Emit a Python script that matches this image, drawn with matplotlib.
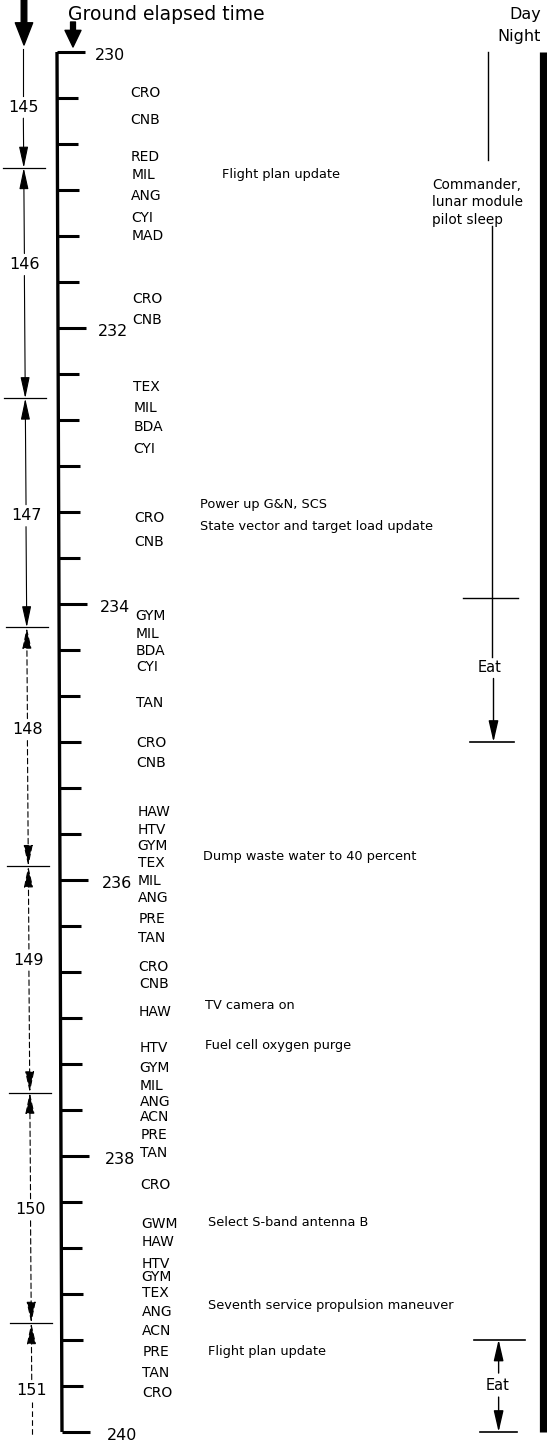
import numpy as np
import matplotlib.pyplot as plt

# ground elapsed time axis (hours)
get_start, get_end = 230, 240
labelled_hours = [230, 232, 234, 236, 238, 240]

# revolution column
rev_numbers = [145, 146, 147, 148, 149, 150, 151]
rev_label_times = [230.40, 231.54, 233.36, 234.91, 236.58, 238.39, 239.70]
rev_boundaries = [230.84, 232.51, 234.17, 235.90, 237.54, 239.21]

# ground stations in contact
stations = ["CRO", "CNB", "RED", "MIL", "ANG", "CYI", "MAD", "CRO", "CNB",
            "TEX", "MIL", "BDA", "CYI", "CRO", "CNB", "GYM", "MIL", "BDA",
            "CYI", "TAN", "CRO", "CNB", "HAW", "HTV", "GYM", "TEX", "MIL",
            "ANG", "PRE", "TAN", "CRO", "CNB", "HAW", "HTV", "GYM", "MIL",
            "ANG", "ACN", "PRE", "TAN", "CRO", "GWM", "HAW", "HTV", "GYM",
            "TEX", "ANG", "ACN", "PRE", "TAN", "CRO"]
station_times = [230.30, 230.49, 230.76, 230.89, 231.04, 231.20, 231.33,
                 231.79, 231.94, 232.43, 232.58, 232.72, 232.88, 233.38,
                 233.55, 234.09, 234.22, 234.34, 234.46, 234.72, 235.01,
                 235.15, 235.51, 235.64, 235.75, 235.88, 236.01, 236.13,
                 236.28, 236.42, 236.63, 236.75, 236.96, 237.22, 237.36,
                 237.49, 237.61, 237.72, 237.85, 237.98, 238.21, 238.49,
                 238.62, 238.78, 238.88, 238.99, 239.13, 239.27, 239.42,
                 239.57, 239.72]

# spacecraft events
events = ["Flight plan update",
          "Power up G&N, SCS",
          "State vector and target load update",
          "Dump waste water to 40 percent",
          "TV camera on",
          "Fuel cell oxygen purge",
          "Select S-band antenna B",
          "Seventh service propulsion maneuver",
          "Flight plan update"]
event_times = [230.89, 233.28, 233.44, 235.83, 236.91, 237.20, 238.48,
               239.08, 239.42]

# crew activities
crew_labels = ["Commander,\nlunar module\npilot sleep", "Eat", "Eat"]
crew_start = [230.00, 233.96, 239.33]
crew_end = [233.96, 235.00, 240.00]
crew_label_times = [231.09, 234.46, 239.66]

# day / night
night_start, night_end = 230, 240

PXH = 138.0   # pixels per hour on the page


def ty(px):
    """page pixel row -> time coordinate"""
    return get_start + (px - 52) / PXH


plt.rcParams['font.family'] = ['DejaVu Sans']
fig = plt.figure(figsize=(5.47, 14.43), dpi=100)
ax = fig.add_axes([0, 0, 1, 1])
ax.set_xlim(0, 547)
ax.set_ylim(ty(1443), ty(0))
ax.axis('off')
k = 'black'

# time axis
ax.plot([57, 62], [get_start, get_end], color=k, lw=2.4, solid_capstyle='butt')
for t in np.arange(get_start, get_end + 1e-6, 1.0 / 3):
    x0 = 57 + 0.5 * (t - get_start)
    major = abs(t - round(t)) < 1e-6 and int(round(t)) in labelled_hours
    ax.plot([x0, x0 + (28 if major else 21)], [t, t], color=k, lw=2.2,
            solid_capstyle='butt')
for h in labelled_hours:
    ax.text(95 + 1.2 * (h - get_start), h + 3 / PXH, str(h), fontsize=11.5,
            ha='left', va='center')

ax.text(68, ty(14), "Ground elapsed time", fontsize=13.5, ha='left', va='center')

# big arrows at top
ax.annotate('', xy=(24, ty(45)), xytext=(24, ty(0)),
            arrowprops=dict(arrowstyle='simple,head_length=1.6,head_width=1.25,tail_width=0.4',
                            mutation_scale=10, color=k, shrinkA=0, shrinkB=0))
ax.annotate('', xy=(73, ty(47)), xytext=(73, ty(22)),
            arrowprops=dict(arrowstyle='simple,head_length=1.2,head_width=1.15,tail_width=0.35',
                            mutation_scale=10, color=k, shrinkA=0, shrinkB=0))

# revolutions
def xr(t):
    return 23 + 0.9 * (t - get_start)

gap = 11 / PXH
arrow = '-|>,head_length=1.3,head_width=0.28'
dash = (0, (5, 3))
for n, t in zip(rev_numbers, rev_label_times):
    ax.text(xr(t), t, str(n), fontsize=11.5, ha='center', va='center')
for i, b in enumerate(rev_boundaries):
    above, below = rev_label_times[i], rev_label_times[i + 1]
    ax.annotate('', xy=(xr(b), b), xytext=(xr(above), above + gap),
                arrowprops=dict(arrowstyle=arrow, mutation_scale=10, color=k,
                                lw=0.8, linestyle='-' if i <= 2 else dash,
                                shrinkA=0, shrinkB=0))
    ax.annotate('', xy=(xr(b), b), xytext=(xr(below), below - gap),
                arrowprops=dict(arrowstyle=arrow, mutation_scale=10, color=k,
                                lw=0.8, linestyle='-' if i < 2 else dash,
                                shrinkA=0, shrinkB=0))
    ax.plot([xr(b) - 21, xr(b) + 21], [b, b], color=k, lw=0.9)
ax.plot([xr(229.98)] * 2, [ty(49), rev_label_times[0] - gap], color=k, lw=0.8)
ax.plot([xr(240)] * 2, [rev_label_times[-1] + gap, 240.03], color=k, lw=0.8,
        linestyle=dash)

# stations
for s, t in zip(stations, station_times):
    ax.text(130 + 1.3 * (t - get_start), t, s, fontsize=10, ha='left', va='center')

# events
event_x = [222, 200, 200, 203, 205, 205, 208, 208, 208]
for e, t, x in zip(events, event_times, event_x):
    ax.text(x, t, e, fontsize=9.3, ha='left', va='center')

# crew activities
def xc(t):
    return 488 + 1.1 * (t - get_start)

# sleep
t0, t1, tl = crew_start[0], crew_end[0], crew_label_times[0]
ax.plot([xc(t0), xc(t0)], [t0, ty(160)], color=k, lw=1.0)
ax.text(432, tl, crew_labels[0], fontsize=9.8, ha='left', va='center',
        linespacing=1.33)
ax.plot([xc(t1), xc(t1)], [ty(226), crew_label_times[1] - 10 / PXH],
        color=k, lw=1.0)
ax.plot([463, 518], [t1, t1], color=k, lw=1.0)

# first meal
t0, t1, tl = crew_start[1], crew_end[1], crew_label_times[1]
ax.text(xc(tl) - 3, tl, crew_labels[1], fontsize=10.5, ha='center', va='center')
ax.annotate('', xy=(xc(t1), t1), xytext=(xc(t1), tl + 11 / PXH),
            arrowprops=dict(arrowstyle='-|>,head_length=1.3,head_width=0.3',
                            mutation_scale=10, color=k, lw=1.0, shrinkA=0, shrinkB=0))
ax.plot([470, 514], [t1, t1], color=k, lw=1.2)

# second meal
t0, t1, tl = crew_start[2], crew_end[2], crew_label_times[2]
ax.text(xc(tl) - 1, tl, crew_labels[2], fontsize=10.5, ha='center', va='center')
for tend, tfrom in [(t0, tl - 12 / PXH), (t1, tl + 12 / PXH)]:
    ax.annotate('', xy=(xc(tl), tend), xytext=(xc(tl), tfrom),
                arrowprops=dict(arrowstyle='-|>,head_length=1.3,head_width=0.3',
                                mutation_scale=10, color=k, lw=1.0, shrinkA=0, shrinkB=0))
ax.plot([474, 525], [t0, t0], color=k, lw=1.2)
ax.plot([480, 517], [t1, t1], color=k, lw=1.2)

# day / night bar
ax.plot([542.5, 542.5], [night_start, night_end], color=k, lw=5.2, solid_capstyle='butt')
ax.text(541, ty(15), "Day", fontsize=11.5, ha='right', va='center')
ax.text(541, ty(36), "Night", fontsize=11.5, ha='right', va='center')

fig.savefig("out.png", dpi=100)
